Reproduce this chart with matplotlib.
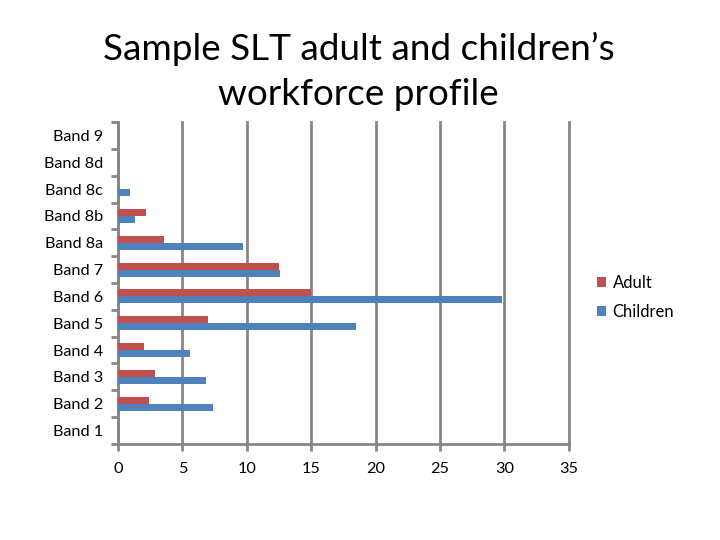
import matplotlib.pyplot as plt
import numpy as np

plt.rcParams['font.family'] = ['Lato', 'DejaVu Sans']

bands = ['Band 1', 'Band 2', 'Band 3', 'Band 4', 'Band 5', 'Band 6',
         'Band 7', 'Band 8a', 'Band 8b', 'Band 8c', 'Band 8d', 'Band 9']
adult = [0, 2.4, 2.9, 2.0, 7.0, 15.0, 12.5, 3.6, 2.2, 0, 0, 0]
children = [0, 7.4, 6.8, 5.6, 18.5, 29.8, 12.6, 9.7, 1.3, 0.9, 0, 0]

red = '#C0504D'
blue = '#4F81BD'
grey = '#868686'

fig = plt.figure(figsize=(7.2, 5.4), dpi=100)
ax = fig.add_axes([0.164, 0.178, 0.626, 0.596])

y = np.arange(len(bands))
h = 0.26
ax.barh(y + h / 2, adult, height=h, color=red, label='Adult', zorder=3)
ax.barh(y - h / 2, children, height=h, color=blue, label='Children', zorder=3)

ax.set_xlim(0, 35)
ax.set_ylim(-0.5, len(bands) - 0.5)
ax.set_xticks(np.arange(0, 36, 5))
ax.set_xticklabels([str(v) for v in range(0, 36, 5)])
# tick marks sit between bands, labels sit on the bands
ax.set_yticks(np.arange(-0.5, len(bands), 1))
ax.set_yticklabels([])
ax.set_yticks(y, minor=True)
ax.set_yticklabels(bands, minor=True)
ax.tick_params(axis='y', which='major', length=5, width=2, color=grey, direction='out')
ax.tick_params(axis='y', which='minor', length=0, pad=11, labelsize=11.7)
ax.tick_params(axis='x', length=5, width=2, color=grey, direction='out', pad=8, labelsize=11.7)

ax.grid(axis='x', color=grey, linewidth=2, zorder=0)
for gl in ax.get_xgridlines():
    gl.set_clip_on(False)
for s in ['top', 'right']:
    ax.spines[s].set_visible(False)
for s in ['left', 'bottom']:
    ax.spines[s].set_color(grey)
    ax.spines[s].set_linewidth(2)

fig.text(0.498, 0.868, 'Sample SLT adult and children\u2019s\nworkforce profile',
         ha='center', va='center', fontsize=26.6, linespacing=1.42)

fig.legend(loc='center left', bbox_to_anchor=(0.808, 0.449), frameon=False,
           fontsize=12, handlelength=0.55, handleheight=0.55, handletextpad=0.4,
           labelspacing=0.75)

fig.savefig('out.png', dpi=100)
